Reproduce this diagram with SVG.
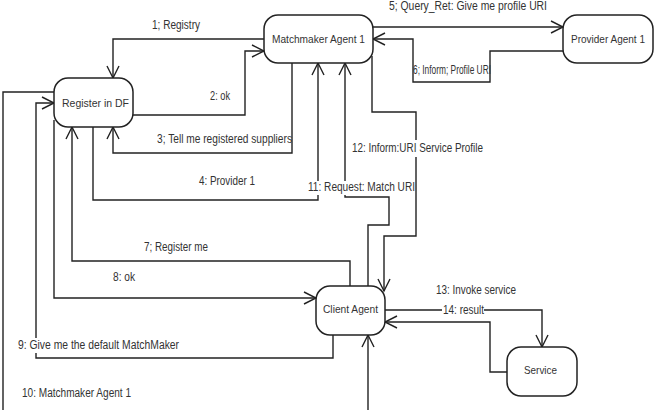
<svg xmlns="http://www.w3.org/2000/svg" width="658" height="410" viewBox="0 0 658 410">
<style>
.n rect{fill:#fff;stroke:#222;stroke-width:1.5}
text{font-family:"Liberation Sans",Arial,sans-serif;font-size:12px;fill:#333}
.n text{font-size:11px}
.c path{fill:none;stroke:#222;stroke-width:1.4}
.a{marker-end:url(#ah)}
</style>
<defs>
<marker id="ah" markerUnits="userSpaceOnUse" markerWidth="16" markerHeight="16" refX="12" refY="6" orient="auto" overflow="visible">
<path d="M0,0 L12,6 L0,12" fill="none" stroke="#222" stroke-width="1.4"/>
</marker>
</defs>
<rect width="658" height="410" fill="#fff"/>
<g class="c" id="connectors">
<path class="a" d="M264,39 H113 V78"/>
<path class="a" d="M133,115 H245 V51 H264"/>
<path class="a" d="M292,63 V153 H113 V127"/>
<path class="a" d="M93,127 V200 H318 V195 M318,181 V63"/>
<path class="a" d="M373,27 H563"/>
<path class="a" d="M563,51 H490 V82 H413 V39 H373"/>
<path class="a" d="M350,286 V261 H72 V127"/>
<path class="a" d="M54,120 V298 H316"/>
<path class="a" d="M333,335 V358 H36 V353 M36,338 V103 H54"/>
<path d="M54,92 H3 V410"/>
<path class="a" d="M368,410 V335"/>
<path class="a" d="M368,286 V225 H389 V197 H345 V195 M345,181 V63"/>
<path class="a" d="M372,56 V112 H416 V140 M416,157 V236 H384 V291"/>
<path class="a" d="M385,310 H442 M484,310 H542 V347"/>
<path class="a" d="M507,372 H490 V322 H385"/>
</g>
<g class="n" id="register"><rect x="54" y="78" width="79" height="49" rx="14"/><text x="62" y="107" textLength="67" lengthAdjust="spacingAndGlyphs">Register in DF</text></g>
<g class="n" id="matchmaker"><rect x="264" y="15" width="109" height="48" rx="14"/><text x="272" y="43" textLength="93" lengthAdjust="spacingAndGlyphs">Matchmaker Agent 1</text></g>
<g class="n" id="provider"><rect x="563" y="15" width="90" height="48" rx="14"/><text x="571" y="43" textLength="74" lengthAdjust="spacingAndGlyphs">Provider Agent 1</text></g>
<g class="n" id="client"><rect x="316" y="286" width="69" height="49" rx="14"/><text x="323" y="313" textLength="55" lengthAdjust="spacingAndGlyphs">Client Agent</text></g>
<g class="n" id="service"><rect x="507" y="347" width="70" height="49" rx="14"/><text x="524" y="374" textLength="33" lengthAdjust="spacingAndGlyphs">Service</text></g>
<g id="labels">
<text x="152" y="29" textLength="48" lengthAdjust="spacingAndGlyphs">1; Registry</text>
<text x="210" y="100" textLength="20" lengthAdjust="spacingAndGlyphs">2: ok</text>
<text x="157" y="143" textLength="135" lengthAdjust="spacingAndGlyphs">3; Tell me registered suppliers</text>
<text x="199" y="185" textLength="56" lengthAdjust="spacingAndGlyphs">4: Provider 1</text>
<text x="389" y="10" textLength="158" lengthAdjust="spacingAndGlyphs">5; Query_Ret: Give me  profile URI</text>
<text x="413" y="74" textLength="78" lengthAdjust="spacingAndGlyphs">6; Inform; Profile URI</text>
<text x="144" y="251" textLength="64" lengthAdjust="spacingAndGlyphs">7; Register me</text>
<text x="113" y="281" textLength="22" lengthAdjust="spacingAndGlyphs">8: ok</text>
<text x="18" y="349" textLength="161" lengthAdjust="spacingAndGlyphs">9: Give me  the default MatchMaker</text>
<text x="22" y="397" textLength="109" lengthAdjust="spacingAndGlyphs">10: Matchmaker Agent 1</text>
<text x="308" y="191" textLength="107" lengthAdjust="spacingAndGlyphs">11: Request: Match URI</text>
<text x="352" y="152" textLength="131" lengthAdjust="spacingAndGlyphs">12: Inform:URI Service Profile</text>
<text x="436" y="294" textLength="80" lengthAdjust="spacingAndGlyphs">13: Invoke service</text>
<text x="443" y="314" textLength="41" lengthAdjust="spacingAndGlyphs">14: result</text>
</g>
</svg>
